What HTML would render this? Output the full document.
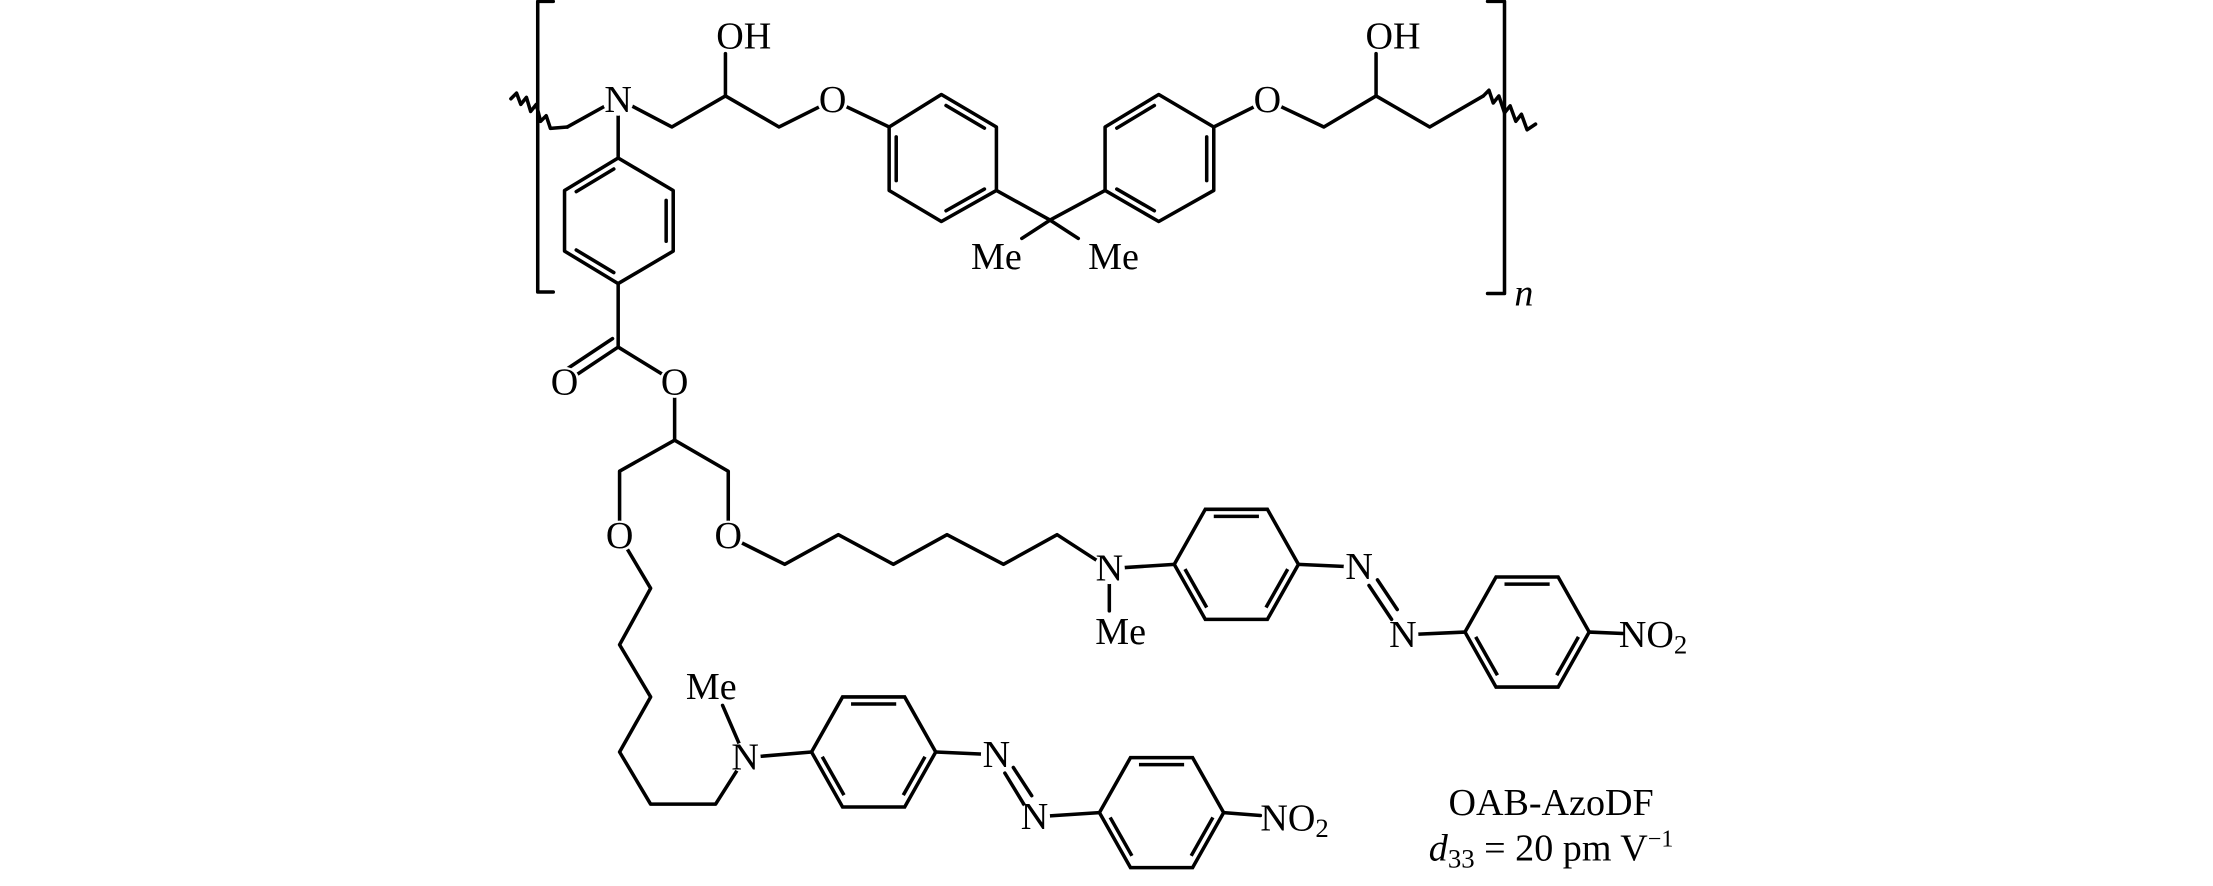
<!DOCTYPE html>
<html><head><meta charset="utf-8"><style>
html,body{margin:0;padding:0;background:#fff;}
svg{display:block;}
text{font-family:"Liberation Serif",serif;font-size:27px;fill:#000;}
</style></head><body>
<svg width="2213" height="886" viewBox="0 0 1568 628" preserveAspectRatio="none" xmlns="http://www.w3.org/2000/svg">
<defs>
<g id="hr">
<polygon points="-22,-39 22,-39 44,0 22,39 -22,39 -44,0" fill="none" stroke="#000" stroke-width="2.5" stroke-linejoin="miter"/>
<line x1="-16" y1="-34" x2="16" y2="-34"/>
<line x1="-36.4" y1="3.4" x2="-21" y2="30.6"/>
<line x1="36.4" y1="3.4" x2="21" y2="30.6"/>
</g>
</defs>
<g stroke="#000" stroke-width="2.5" fill="none" stroke-linecap="round" stroke-linejoin="round">
<polyline points="392,1 381,1 381,207 392,207"/>
<polyline points="1054,1 1066,1 1066,208 1054,208"/>
<polyline points="362,70 366,66 369,74 373,69 376,79 380,74 383,86 387,82 390,91 402,90"/>
<polyline points="402,90 438,70 476,90 514,68 552,90 590,71 630,90"/>
<line x1="514" y1="68" x2="514" y2="38"/>
<polygon points="667,67 706,90 706,135 667,157 630,135 630,90"/>
<line x1="670.3" y1="74.8" x2="697.5" y2="90.8"/>
<line x1="635" y1="97" x2="635" y2="128"/>
<line x1="697.5" y1="134" x2="670.3" y2="149.4"/>
<polyline points="706,135 744,156 783,135"/>
<line x1="744" y1="156" x2="724" y2="169"/>
<line x1="744" y1="156" x2="764" y2="169"/>
<polygon points="821,67 860,90 860,135 821,157 783,135 783,90"/>
<line x1="791.3" y1="90.8" x2="817.9" y2="74.8"/>
<line x1="855" y1="97" x2="855" y2="128"/>
<line x1="791.3" y1="134" x2="817.9" y2="149.4"/>
<polyline points="860,90 898,71 938,90 975,68 1013,90 1051,68"/>
<line x1="975" y1="68" x2="975" y2="38"/>
<polyline points="1051,68 1055,64 1058,73 1062,68 1066,80 1070,75 1074,86 1078,81 1082,92 1088,88"/>
<line x1="438" y1="70" x2="438" y2="112"/>
<polygon points="438,112 477,135 477,178 438,201 400,178 400,135"/>
<line x1="408.3" y1="135.8" x2="434.9" y2="119.8"/>
<line x1="472" y1="142" x2="472" y2="171"/>
<line x1="408.3" y1="177.2" x2="434.9" y2="193.2"/>
<line x1="438" y1="201" x2="438" y2="246"/>
<line x1="438" y1="246" x2="405" y2="268"/>
<line x1="434" y1="240" x2="401" y2="262"/>
<line x1="438" y1="246" x2="477" y2="270"/>
<line x1="478" y1="272" x2="478" y2="312"/>
<polyline points="439,380 439,334 478,312 516,334 516,380"/>
<polyline points="516,380 556,400 594,379 633,400 671,379 711,400 749,379 786,403"/>
<line x1="786" y1="403" x2="786" y2="433"/>
<line x1="786" y1="403" x2="832" y2="400"/>
<line x1="920" y1="400" x2="963" y2="402"/>
<line x1="970" y1="415" x2="986" y2="439"/>
<line x1="976" y1="411" x2="990" y2="432"/>
<line x1="994" y1="450" x2="1038" y2="448"/>
<line x1="1126" y1="448" x2="1150" y2="449"/>
<polyline points="439,380 461,417 439,457 461,494 439,533 461,570 507,570 528,537"/>
<line x1="528" y1="537" x2="512" y2="500"/>
<line x1="528" y1="537" x2="575" y2="533"/>
<line x1="663" y1="533" x2="706" y2="535"/>
<line x1="712" y1="548" x2="726" y2="571"/>
<line x1="718" y1="544" x2="731" y2="564"/>
<line x1="733" y1="579" x2="779" y2="576"/>
<line x1="867" y1="576" x2="893" y2="578"/>
</g>
<g stroke="#000" stroke-width="2.5" fill="none">
<use href="#hr" transform="translate(876,400)"/>
<use href="#hr" transform="translate(1082,448)"/>
<use href="#hr" transform="translate(619,533)"/>
<use href="#hr" transform="translate(823,576)"/>
</g>
<g fill="#fff">
<circle cx="438" cy="71" r="11"/>
<circle cx="590" cy="71" r="11"/>
<circle cx="898" cy="71" r="11"/>
<circle cx="400" cy="271" r="11"/>
<circle cx="478" cy="271" r="11"/>
<circle cx="439" cy="380" r="11"/>
<circle cx="516" cy="380" r="11"/>
<circle cx="786" cy="403" r="11"/>
<circle cx="963" cy="402" r="11"/>
<circle cx="994" cy="450" r="11"/>
<circle cx="528" cy="537" r="11"/>
<circle cx="706" cy="535" r="11"/>
<circle cx="733" cy="579" r="11"/>
</g>
<g text-anchor="middle" dominant-baseline="central">
<text x="438" y="71">N</text>
<text x="527" y="26">OH</text>
<text x="590" y="71">O</text>
<text x="898" y="71">O</text>
<text x="987" y="26">OH</text>
<text x="706" y="182">Me</text>
<text x="789" y="182">Me</text>
<text x="400" y="271">O</text>
<text x="478" y="271">O</text>
<text x="439" y="380">O</text>
<text x="516" y="380">O</text>
<text x="786" y="403">N</text>
<text x="794" y="448">Me</text>
<text x="963" y="402">N</text>
<text x="994" y="450">N</text>
<text x="504" y="487">Me</text>
<text x="528" y="537">N</text>
<text x="706" y="535">N</text>
<text x="733" y="579">N</text>
<text x="1099" y="569">OAB-AzoDF</text>
</g>
<g dominant-baseline="central">
<text x="1147" y="450">NO<tspan font-size="19" dy="7">2</tspan></text>
<text x="893" y="580">NO<tspan font-size="19" dy="7">2</tspan></text>
<text x="1073" y="208" font-style="italic" font-size="22">n</text>
</g>
<text x="1099" y="610" text-anchor="middle"><tspan font-style="italic">d</tspan><tspan font-size="19" dy="5">33</tspan><tspan dy="-5"> = 20 pm V</tspan><tspan font-size="17" dy="-10">−1</tspan></text>
</svg>
</body></html>
